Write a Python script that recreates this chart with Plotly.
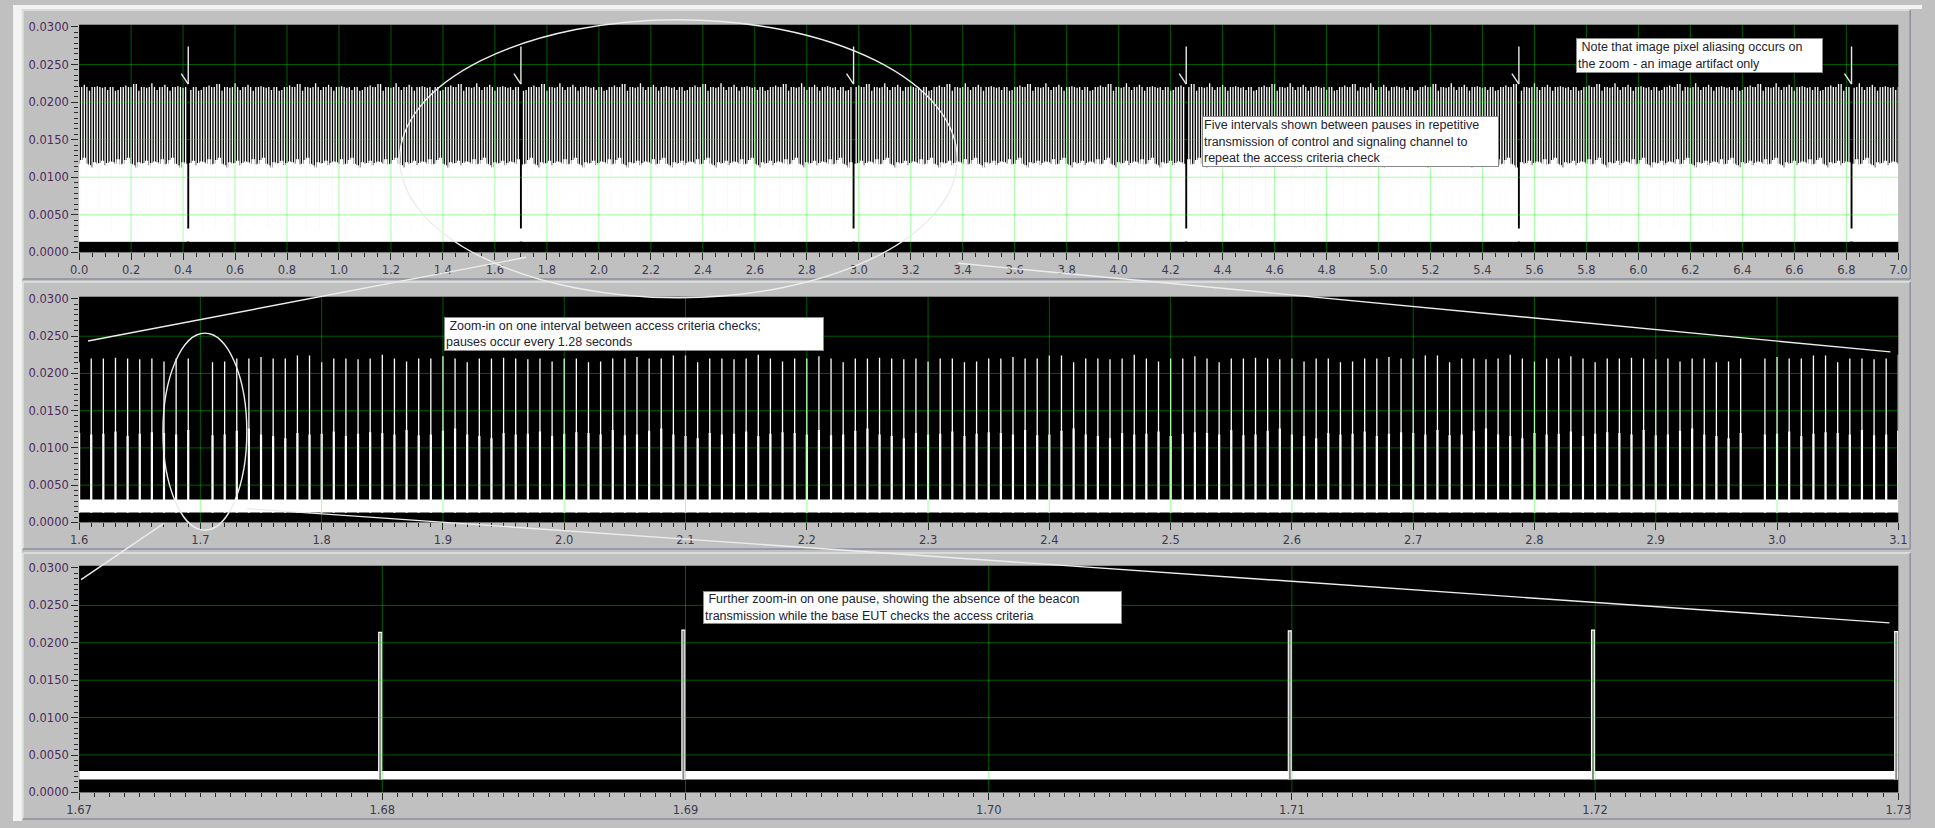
import numpy as np
import plotly.graph_objects as go

FIG_W, FIG_H = 1935, 828

# ---- beacon timing (seconds) ----
frame_period = 0.010
record_span = [0.0, 7.0]
pause_times = [0.42, 1.70, 2.98, 4.26, 5.54, 6.82]

# burst amplitudes (peak and lower step level), used in sequence
burst_peaks = [0.0220, 0.0220, 0.0223, 0.0220, 0.0215, 0.0220, 0.0220, 0.0221,
               0.0220, 0.0219, 0.0220, 0.0216, 0.0220, 0.0220, 0.0215, 0.0216,
               0.0220, 0.0220, 0.0222, 0.0220, 0.0220, 0.0224, 0.0224, 0.0215,
               0.0220, 0.0220, 0.0219, 0.0220, 0.0225, 0.0220, 0.0216]
burst_steps = [0.0118, 0.0123, 0.0126, 0.0118, 0.0116, 0.0113, 0.0120, 0.0118,
               0.0119, 0.0122, 0.0116, 0.0119, 0.0121, 0.0120, 0.0118, 0.0124, 0.0117]

# fine zoom acquisition around one pause
zoom_pulse_times = [1.67993, 1.68993, 1.70993, 1.71993, 1.72993]
zoom_pulse_peaks = [0.0214, 0.0217, 0.0216, 0.0217, 0.0215]

# noise floor envelope, one entry per panel
noise_low = [0.00144, 0.00132, 0.00171]
noise_high = [0.00319, 0.00308, 0.00286]

# axes of the three panels
x_ranges = [[0.0, 7.0], [1.6, 3.1], [1.67, 1.73]]
x_dtick = [0.2, 0.1, 0.01]
x_minor = [0.05, 0.01, 0.0005]
x_fmt = [".1f", ".1f", ".2f"]
y_range = [0.0, 0.0303]
y_dtick = 0.005
y_minor = 0.005 / 7

# plot boxes in pixels: left, right, top, bottom
plot_boxes = [(67, 1911, 20, 251), (67, 1911, 296, 525), (67, 1911, 569, 799)]
panel_frames = [(5, 278), (281, 552), (556, 826)]

note_texts = [
    "\u00a0Note that image pixel aliasing occurs on<br>the zoom - an image artifact only",
    "Five intervals shown between pauses in repetitive<br>transmission of control and signaling channel to<br>repeat the access criteria check",
    "\u00a0Zoom-in on one interval between access criteria checks;<br>pauses occur every 1.28 seconds",
    "\u00a0Further zoom-in on one pause, showing the absence of the beacon<br>transmission while the base EUT checks the access criteria",
]
note_boxes = [(1584, 33, 247, 35), (1205, 113, 297, 51), (437, 317, 380, 34), (699, 595, 419, 33)]


def px(x):
    return x / FIG_W


def py(y):
    return 1 - y / FIG_H


frames = np.round(np.arange(record_span[0], record_span[1] + frame_period / 2, frame_period), 4)
on_air = ~np.isin(frames, np.round(pause_times, 4))
burst_times = frames[on_air]
n_bursts = len(burst_times)
peaks = np.resize(np.array(burst_peaks), n_bursts)
steps = np.resize(np.array(burst_steps), n_bursts)


def stems(xs, lo, hi):
    X, Y = [], []
    for x, a, b in zip(xs, lo, hi):
        X += [float(x), float(x), None]
        Y += [float(a), float(b), None]
    return X, Y


fig = go.Figure()
axis_ids = ["", "2", "3"]
common = dict(mode="lines", hoverinfo="skip", showlegend=False)

for i in range(3):
    xa, ya = "x" + axis_ids[i], "y" + axis_ids[i]
    x0, x1 = x_ranges[i]
    # noise floor
    fig.add_trace(go.Scatter(
        x=[x0, x1, x1, x0, x0],
        y=[noise_low[i], noise_low[i], noise_high[i], noise_high[i], noise_low[i]],
        fill="toself", fillcolor="white", line=dict(width=0, color="white"),
        xaxis=xa, yaxis=ya, **common))

    if i < 2:
        sel = (burst_times >= x0 - frame_period) & (burst_times <= x1 + frame_period)
        bt = burst_times[sel]
        lo = np.full(len(bt), noise_low[i])
        lw_low, lw_high = (3.3, 1.3) if i == 0 else (2.2, 1.3)
        X, Y = stems(bt, lo, steps[sel])
        fig.add_trace(go.Scatter(x=X, y=Y, line=dict(color="white", width=lw_low),
                                 xaxis=xa, yaxis=ya, **common))
        X, Y = stems(bt, lo, peaks[sel])
        fig.add_trace(go.Scatter(x=X, y=Y, line=dict(color="white", width=lw_high),
                                 xaxis=xa, yaxis=ya, **common))
    else:
        half_w = 0.00005
        X, Y = [], []
        for t, pk in zip(zoom_pulse_times, zoom_pulse_peaks):
            X += [t - half_w, t - half_w, t + half_w, t + half_w, None]
            Y += [noise_low[i], pk, pk, noise_low[i], None]
        fig.add_trace(go.Scatter(x=X, y=Y, fill="toself", fillcolor="#8a8a8a",
                                 line=dict(color="white", width=1.1),
                                 xaxis=xa, yaxis=ya, **common))

# grid drawn over the traces (translucent so it stays faint over the white trace)
grid_col = "rgba(0,255,0,0.36)"
for i in range(3):
    xa, ya = "x" + axis_ids[i], "y" + axis_ids[i]
    x0, x1 = x_ranges[i]
    k0 = int(round(x0 / x_dtick[i])) + 1
    k1 = int(round(x1 / x_dtick[i]))
    for k in range(k0, k1):
        gx = round(k * x_dtick[i], 4)
        fig.add_shape(type="line", xref=xa, yref=ya + " domain", x0=gx, x1=gx, y0=0, y1=1,
                      line=dict(color=grid_col, width=1), layer="above")
    for k in range(1, 6):
        gy = round(k * y_dtick, 4)
        fig.add_shape(type="line", xref=xa + " domain", yref=ya, x0=0, x1=1, y0=gy, y1=gy,
                      line=dict(color=grid_col, width=1), layer="above")

# pause markers on the overview
for p in pause_times:
    fig.add_shape(type="line", xref="x", yref="y", x0=p, x1=p, y0=0.0274, y1=0.0224,
                  line=dict(color="#e8e8e8", width=1.4), layer="above")
    fig.add_shape(type="line", xref="x", yref="y", x0=p - 0.027, x1=p, y0=0.0238, y1=0.0224,
                  line=dict(color="#e8e8e8", width=1.4), layer="above")

# zoom callouts
callout = dict(color="#ececec", width=1.4)
fig.add_shape(type="circle", xref="paper", yref="paper", x0=px(392), x1=px(957),
              y0=py(297), y1=py(15), line=callout, layer="above")
fig.add_shape(type="circle", xref="paper", yref="paper", x0=px(152), x1=px(237),
              y0=py(533), y1=py(333), line=callout, layer="above")
for (ax0, ay0, ax1, ay1) in [(76, 341, 520, 256), (958, 262, 1903, 352),
                             (69, 583, 153, 526), (237, 511, 1902, 627)]:
    fig.add_shape(type="line", xref="paper", yref="paper", x0=px(ax0), y0=py(ay0),
                  x1=px(ax1), y1=py(ay1), line=callout, layer="above")

# panel frames
fig.add_shape(type="rect", xref="paper", yref="paper", x0=0, x1=px(9), y0=0, y1=1,
              fillcolor="#f3f3f3", line=dict(width=0), layer="below")
fig.add_shape(type="rect", xref="paper", yref="paper", x0=0, x1=1, y0=py(4), y1=1,
              fillcolor="#f3f3f3", line=dict(width=0), layer="below")
for (ft, fb) in panel_frames:
    light = dict(color="#dfe8df", width=1.5)
    dark = dict(color="#8e8e9e", width=1.5)
    fig.add_shape(type="line", xref="paper", yref="paper", x0=px(10), x1=px(1923),
                  y0=py(ft), y1=py(ft), line=light, layer="below")
    fig.add_shape(type="line", xref="paper", yref="paper", x0=px(10), x1=px(10),
                  y0=py(ft), y1=py(fb), line=light, layer="below")
    fig.add_shape(type="line", xref="paper", yref="paper", x0=px(10), x1=px(1923),
                  y0=py(fb), y1=py(fb), line=dark, layer="below")
    fig.add_shape(type="line", xref="paper", yref="paper", x0=px(1923), x1=px(1923),
                  y0=py(ft), y1=py(fb), line=dark, layer="below")

# text notes
for txt, (bx, by, bw, bh) in zip(note_texts, note_boxes):
    fig.add_annotation(xref="paper", yref="paper", x=px(bx), y=py(by),
                       xanchor="left", yanchor="top", align="left", valign="middle",
                       text=txt, showarrow=False, bgcolor="white",
                       bordercolor="#8a8a8a", borderwidth=1, borderpad=1,
                       width=bw - 4, height=bh - 4,
                       font=dict(family="Liberation Sans, Arial, sans-serif", size=12.5,
                                 color="#22222e"))

layout = dict(
    width=FIG_W, height=FIG_H, margin=dict(l=0, r=0, t=0, b=0),
    paper_bgcolor="#c0c0c0", plot_bgcolor="black", showlegend=False, hovermode=False,
)
tick_col = "#2a2a2a"
for i in range(3):
    L, R, T, B = plot_boxes[i]
    sfx = axis_ids[i]
    layout["xaxis" + sfx] = dict(
        domain=[px(L), px(R)], range=x_ranges[i], anchor="y" + sfx,
        tick0=0, dtick=x_dtick[i], tickformat=x_fmt[i],
        ticks="outside", ticklen=7, tickwidth=1, tickcolor=tick_col,
        showgrid=False, zeroline=False, showline=False, fixedrange=True,
        tickfont=dict(family="DejaVu Sans, Verdana, sans-serif", size=11.5, color="#3b3b50"),
        minor=dict(tick0=0, dtick=x_minor[i], ticks="outside", ticklen=4,
                   tickcolor=tick_col, showgrid=False),
    )
    layout["yaxis" + sfx] = dict(
        domain=[py(B), py(T)], range=y_range, anchor="x" + sfx,
        tick0=0, dtick=y_dtick, tickformat=".4f",
        ticks="outside", ticklen=7, tickwidth=1, tickcolor=tick_col,
        showgrid=False, zeroline=False, showline=False, fixedrange=True,
        tickfont=dict(family="DejaVu Sans, Verdana, sans-serif", size=11.5, color="#4d2a5c"),
        minor=dict(tick0=0, dtick=y_minor, ticks="outside", ticklen=4,
                   tickcolor=tick_col, showgrid=False),
    )
fig.update_layout(**layout)

fig.write_html("out.html")
